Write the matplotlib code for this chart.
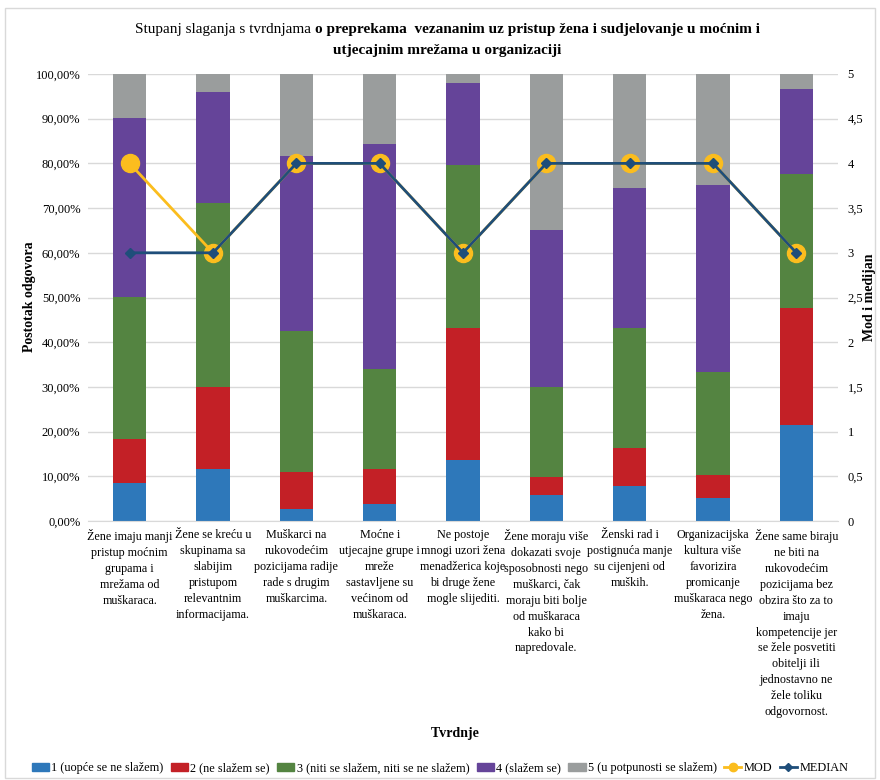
import matplotlib
matplotlib.use("Agg")
import matplotlib.pyplot as plt
import numpy as np
from matplotlib.offsetbox import TextArea, HPacker, VPacker, AnchoredOffsetbox
from matplotlib.lines import Line2D
from matplotlib.patches import Patch, Rectangle

plt.rcParams['font.family'] = ['Liberation Serif', 'DejaVu Serif']

categories = [
    "Žene imaju manji\npristup moćnim\ngrupama i\nmrežama od\nmuškaraca.",
    "Žene se kreću u\nskupinama sa\nslabijim\npristupom\nrelevantnim\ninformacijama.",
    "Muškarci na\nrukovodećim\npozicijama radije\nrade s drugim\nmuškarcima.",
    "Moćne i\nutjecajne grupe i\nmreže\nsastavljene su\nvećinom od\nmuškaraca.",
    "Ne postoje\nmnogi uzori žena\nmenadžerica koje\nbi druge žene\nmogle slijediti.",
    "Žene moraju više\ndokazati svoje\nsposobnosti nego\nmuškarci, čak\nmoraju biti bolje\nod muškaraca\nkako bi\nnapredovale.",
    "Ženski rad i\npostignuća manje\nsu cijenjeni od\nmuških.",
    "Organizacijska\nkultura više\nfavorizira\npromicanje\nmuškaraca nego\nžena.",
    "Žene same biraju\nne biti na\nrukovodećim\npozicijama bez\nobzira što za to\nimaju\nkompetencije jer\nse žele posvetiti\nobitelji ili\njednostavno ne\nžele toliku\nodgovornost.",
]

series_names = ["1 (uopće se ne slažem)", "2 (ne slažem se)",
                "3 (niti se slažem, niti se ne slažem)", "4 (slažem se)",
                "5 (u potpunosti se slažem)"]

s1 = [8.4, 11.6, 2.6, 3.8, 13.6, 5.8, 7.8, 5.1, 21.5]
s2 = [9.9, 18.3, 8.4, 7.8, 29.5, 4.0, 8.5, 5.3, 26.1]
s3 = [31.9, 41.2, 31.4, 22.3, 36.5, 20.1, 26.8, 22.9, 30.1]
s4 = [40.0, 24.9, 39.3, 50.4, 18.4, 35.3, 31.4, 41.8, 18.9]
s5 = [9.8, 4.0, 18.3, 15.7, 2.0, 34.8, 25.5, 24.9, 3.4]

mod_vals = [4, 3, 4, 4, 3, 4, 4, 4, 3]
median_vals = [3, 3, 4, 4, 3, 4, 4, 4, 3]

colors = ["#2E78BA", "#C32026", "#548441", "#654499", "#9A9D9D"]
mod_color = "#FBBD1E"
median_color = "#1F4E7A"

W, H = 880, 780
fig = plt.figure(figsize=(W / 100, H / 100), dpi=100)
fig.patches.append(Rectangle((5 / W, 2 / H), 870 / W, 770 / H, transform=fig.transFigure,
                             fill=False, edgecolor="#D9D9D9", linewidth=1))

ax = fig.add_axes([88 / W, 1 - 521 / H, 750 / W, 447 / H])
x = np.arange(len(categories))
bottom = np.zeros(len(categories))
series = [s1, s2, s3, s4, s5]
for vals, c, name in zip(series, colors, series_names):
    v = np.array(vals) / 100.0
    ax.bar(x, v, 0.4, bottom=bottom, color=c, label=name, zorder=2)
    bottom += v

ax.set_xlim(-0.5, len(categories) - 0.5)
ax.set_ylim(0, 1)
ax.set_yticks(np.arange(0, 1.01, 0.1))
ax.set_yticklabels([("%.2f%%" % (t * 100)).replace(".", ",") for t in np.arange(0, 1.01, 0.1)],
                   fontsize=9)
ax.set_xticks(x)
ax.set_xticklabels(categories, fontsize=8.7, linespacing=1.43, va="top")
ax.tick_params(axis="both", length=0)
ax.tick_params(axis="x", pad=6)
ax.tick_params(axis="y", pad=5.5)
ax.grid(axis="y", color="#D9D9D9", linewidth=1, zorder=0)
ax.set_axisbelow(True)
for sp in ["top", "left", "right"]:
    ax.spines[sp].set_visible(False)
ax.spines["bottom"].set_color("#D9D9D9")

ax2 = ax.twinx()
ax2.set_ylim(0, 5)
ax2.set_yticks(np.arange(0, 5.01, 0.5))
ax2.set_yticklabels([("%g" % t).replace(".", ",") for t in np.arange(0, 5.01, 0.5)], fontsize=9)
ax2.tick_params(axis="y", length=0, pad=7)
for sp in ax2.spines.values():
    sp.set_visible(False)
ax2.plot(x, mod_vals, color=mod_color, linewidth=2, marker="o", markersize=13,
         markeredgecolor=mod_color, label="MOD", zorder=3)
ax2.plot(x, median_vals, color=median_color, linewidth=2, marker="D", markersize=5,
         label="MEDIAN", zorder=4)

# Title with mixed weights
fs_t = 11
t1a = TextArea("Stupanj slaganja s tvrdnjama ", textprops=dict(fontsize=fs_t))
t1b = TextArea("o preprekama  vezananim uz pristup žena i sudjelovanje u moćnim i",
               textprops=dict(fontsize=fs_t, fontweight="bold"))
line1 = HPacker(children=[t1a, t1b], align="baseline", pad=0, sep=0)
line2 = TextArea("utjecajnim mrežama u organizaciji", textprops=dict(fontsize=fs_t, fontweight="bold"))
title = VPacker(children=[line1, line2], align="center", pad=0, sep=6)
ab = AnchoredOffsetbox(loc="center", child=title, frameon=False,
                       bbox_to_anchor=(447 / W, 1 - 40 / H), bbox_transform=fig.transFigure,
                       borderpad=0, pad=0)
fig.add_artist(ab)

fig.text(30 / W, 1 - 297 / H, "Postotak odgovora", rotation=90, ha="center", va="center",
         fontsize=10, fontweight="bold")
fig.text(869 / W, 1 - 297 / H, "Mod i medijan", rotation=90, ha="center", va="center",
         fontsize=10, fontweight="bold")
fig.text(455 / W, 1 - 733 / H, "Tvrdnje", ha="center", va="center",
         fontsize=10, fontweight="bold")

handles = [Patch(color=c) for c in colors]
handles += [Line2D([], [], color=mod_color, marker="o", markersize=6, linewidth=2),
            Line2D([], [], color=median_color, marker="D", markersize=4, linewidth=2)]
labels = series_names + ["MOD", "MEDIAN"]
fig.legend(handles, labels, loc="center", bbox_to_anchor=(440 / W, 1 - 768 / H), ncol=7,
           frameon=False, fontsize=8.8, handlelength=1.4, handleheight=0.6, handletextpad=0.2,
           columnspacing=0.6)

fig.savefig("out.png", dpi=100)
